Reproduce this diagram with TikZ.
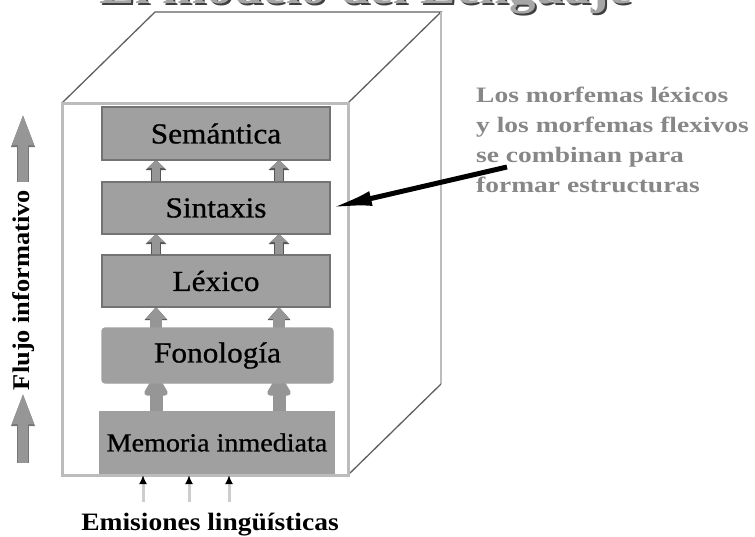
\documentclass[tikz,border=0pt]{standalone}
\usepackage{fontspec}
\setmainfont{Liberation Serif}[FakeStretch=1.1]
\newfontfamily\widefont{Liberation Serif}[FakeStretch=1.25]
\newfontfamily\labfam{Liberation Serif}[FakeStretch=1.08, FakeBold=0.8]
\usetikzlibrary{arrows.meta,calc}
\pgfdeclarelayer{back}\pgfdeclarelayer{mid}
\pgfsetlayers{back,mid,main}
\definecolor{boxfill}{RGB}{160,160,160}
\definecolor{boxedge}{RGB}{115,115,115}
\definecolor{edgelight}{RGB}{188,188,188}
\definecolor{edgedark}{RGB}{95,95,95}
\definecolor{arrfill}{RGB}{150,150,150}
\definecolor{arredge}{RGB}{85,85,85}
\definecolor{notegray}{RGB}{135,135,135}
\definecolor{emishaft}{RGB}{205,205,205}
\begin{document}
\begin{tikzpicture}[x=1pt,y=-1pt,
  layerbox/.style={draw=boxedge, line width=1.2pt, fill=boxfill, minimum width=228pt, inner sep=0pt, outer sep=0pt, text=black},
  labfont/.style={font=\labfam\fontsize{29}{34}\selectfont},
  smallarr/.style={draw=arrfill, line width=8pt, -{Triangle[width=17pt,length=8pt]},
     preaction={draw=arredge, line width=10pt, -{Triangle[width=20pt,length=10pt]}}},
  midarr/.style={draw=arrfill, line width=12pt, -{Triangle[width=20pt,length=12pt]},
     preaction={draw=arredge, line width=12.5pt, -{Triangle[width=22pt,length=13pt]}}},
  droparr/.style={draw=arrfill, line width=13pt, -{Triangle[round,width=26pt,length=24pt]}},
  emiarr/.style={draw=emishaft, line width=3pt, -{Latex[length=9pt,width=8pt,black]}},
  flujoarr/.style={draw=arrfill, line width=10pt, -{Triangle[width=19pt,length=32pt]},
     preaction={draw=arredge!80, line width=11.5pt, -{Triangle[width=21pt,length=34pt]}}},
  blackarr/.style={draw=black, line width=5pt, -{Latex[length=42pt,width=15pt]}},
  edgeline/.style={draw=edgedark, line width=1.3pt}
]
\useasboundingbox (0,0) rectangle (755,536);
% title (cut off at the top)
\begin{scope}
\clip (0,0) rectangle (755,536);
\node[font=\bfseries\fontsize{48}{56}\selectfont, text=black!75, anchor=base] (titleshadow) at (368,5.5) {El modelo del Lenguaje};
\node[font=\bfseries\fontsize{48}{56}\selectfont, text=black!35, anchor=base] (title) at (366,3.5) {El modelo del Lenguaje};
\end{scope}
% cube
\begin{pgfonlayer}{back}
\draw[edgeline] (62,103) -- ++(93,-91) -- ++(286,0) coordinate (btr) -- (348,103);
\draw[draw=edgelight, line width=2pt] (btr) -- ++(0,372) coordinate (bbr);
\draw[edgeline] (348,475) -- (bbr);
\node[draw=edgelight, line width=3pt, fill=white, minimum width=286pt, minimum height=372pt, inner sep=0pt, outer sep=0pt] (front) at (205,289) {};
\end{pgfonlayer}
% layers
\node[layerbox, labfont, minimum height=53pt] (sem) at (216,133.5) {Semántica};
\node[layerbox, labfont, minimum height=52pt] (sin) at (216,208) {Sintaxis};
\node[layerbox, labfont, minimum height=52pt] (lex) at (216,281) {Léxico};
\node[layerbox, labfont, minimum height=55pt, minimum width=231pt, rounded corners=3pt, draw=boxfill] (fon) at (217.5,355.5) {Fonología};
\node[layerbox, font=\labfam\fontsize{26}{30}\selectfont, minimum height=61pt, minimum width=234pt, draw=boxfill] (mem) at (217,442.5) {Memoria inmediata};
% inner arrows
\coordinate (cl) at (156,0);
\coordinate (cr) at (279,0);
\begin{pgfonlayer}{mid}
\draw[smallarr] (sin.north -| cl) -- (sem.south -| cl);
\draw[smallarr] (sin.north -| cr) -- (sem.south -| cr);
\draw[smallarr] (lex.north -| cl) -- (sin.south -| cl);
\draw[smallarr] (lex.north -| cr) -- (sin.south -| cr);
\draw[midarr] (fon.north -| cl) -- (lex.south -| cl);
\draw[midarr] (fon.north -| cr) -- (lex.south -| cr);
\draw[droparr] (mem.north -| cl) -- ($(fon.south -| cl)+(0,-8)$);
\draw[droparr] (mem.north -| cr) -- ($(fon.south -| cr)+(0,-8)$);
\end{pgfonlayer}
% input arrows
\coordinate (e1) at (143,502);
\coordinate (e2) at (189,502);
\coordinate (e3) at (229,502);
\draw[emiarr] (e1) -- (e1 |- front.south);
\draw[emiarr] (e2) -- (e2 |- front.south);
\draw[emiarr] (e3) -- (e3 |- front.south);
\node[font=\bfseries\fontsize{25}{30}\selectfont, anchor=base] (emi) at (210,530) {Emisiones lingüísticas};
% flujo informativo
\node[font=\bfseries\fontsize{24}{28}\selectfont, rotate=90] (flujo) at (24,290) {Flujo informativo};
\coordinate (fa) at (23,182);
\coordinate (fat) at (23,113);
\coordinate (fb) at (23,463);
\coordinate (fbt) at (23,392);
\draw[flujoarr] (fa) -- (fat);
\draw[flujoarr] (fb) -- (fbt);
% note
\node[font=\widefont\bfseries\fontsize{22}{30}\selectfont, text=notegray, align=left, anchor=north west, inner sep=0pt] (note) at (476,87) {Los morfemas léxicos\\y los morfemas flexivos\\se combinan para\\formar estructuras};
\coordinate (bs) at (507,167);
\draw[blackarr] (bs) -- (sin.east);
\end{tikzpicture}
\end{document}
